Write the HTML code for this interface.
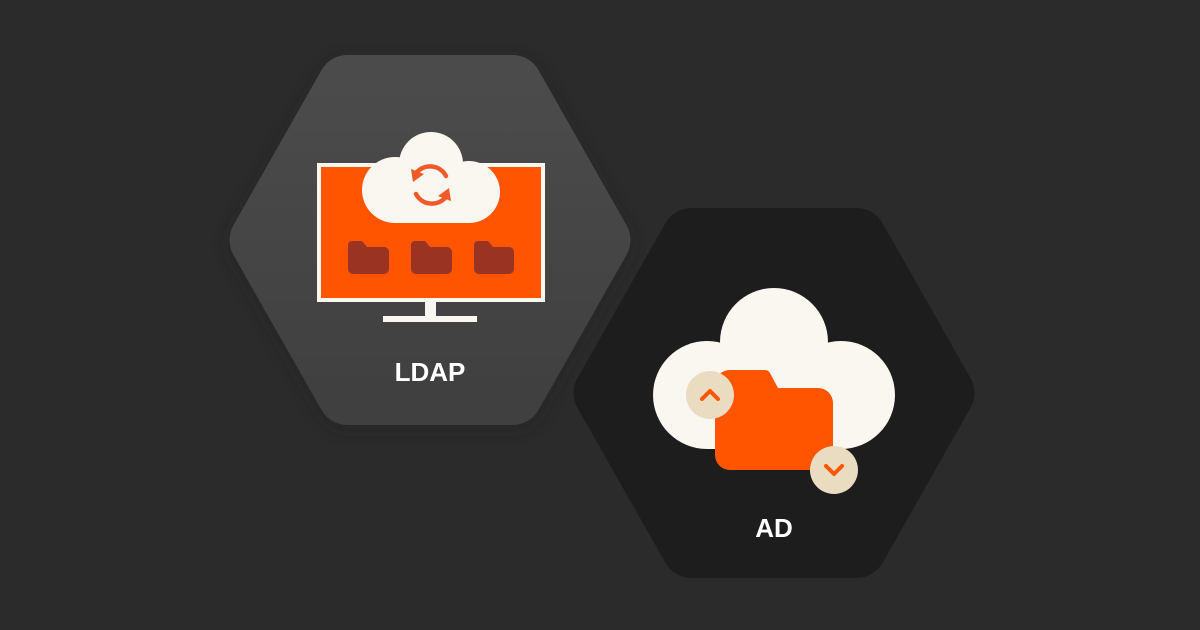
<!DOCTYPE html>
<html><head><meta charset="utf-8"><style>
html,body{margin:0;padding:0;background:#2b2b2b;}
svg{display:block}
</style></head><body>
<svg width="1200" height="630" viewBox="0 0 1200 630" xmlns="http://www.w3.org/2000/svg">
<defs>
<linearGradient id="g1" x1="0" y1="0" x2="0" y2="1">
<stop offset="0" stop-color="#4b4b4b"/><stop offset="1" stop-color="#404040"/>
</linearGradient>
<filter id="sh" x="-20%" y="-20%" width="140%" height="140%"><feGaussianBlur stdDeviation="8"/></filter>
</defs>
<rect width="1200" height="630" fill="#2b2b2b"/>
<polygon points="259.5,240 347.5,85 512.5,85 600.5,240 512.5,395 347.5,395" fill="#1f1f1f" stroke="#1f1f1f" stroke-width="60" stroke-linejoin="round" opacity="0.35" filter="url(#sh)" transform="translate(0,4)"/>
<polygon points="259.5,240 347.5,85 512.5,85 600.5,240 512.5,395 347.5,395" fill="url(#g1)" stroke="url(#g1)" stroke-width="60" stroke-linejoin="round"/>
<g transform="translate(344,153)">
<polygon points="259.5,240 347.5,85 512.5,85 600.5,240 512.5,395 347.5,395" fill="#1d1d1d" stroke="#1d1d1d" stroke-width="60" stroke-linejoin="round"/>
</g>
<rect x="317" y="163" width="228" height="139" fill="#faf6f0"/>
<rect x="321" y="167" width="220" height="131" fill="#ff5400"/>
<rect x="425" y="302" width="11" height="15" fill="#faf6f0"/>
<rect x="383" y="316" width="94" height="6" fill="#faf6f0"/>
<g fill="#faf6f0">
<circle cx="431" cy="164" r="32"/>
<circle cx="395" cy="190" r="33"/>
<circle cx="469" cy="192" r="31"/>
<rect x="395" y="175" width="75" height="48"/>
</g>
<g fill="none" stroke="#f05a28" stroke-width="4.5" stroke-linecap="round">
<path d="M417 172 A18 18 0 0 1 446 176"/>
<path d="M445 198 A18 18 0 0 1 416 194"/>
</g>
<polygon points="411,169 424,174 413,182" fill="#f05a28"/>
<polygon points="451,201 438,196 449,188" fill="#f05a28"/>
<g fill="#9a3322">
<path d="M348 245 a4 4 0 0 1 4 -4 h10 l5 6 h17 a5 5 0 0 1 5 5 v17 a5 5 0 0 1 -5 5 h-31 a5 5 0 0 1 -5 -5z"/>
<path d="M411 245 a4 4 0 0 1 4 -4 h10 l5 6 h17 a5 5 0 0 1 5 5 v17 a5 5 0 0 1 -5 5 h-31 a5 5 0 0 1 -5 -5z"/>
<path d="M474 245 a4 4 0 0 1 4 -4 h10 l5 6 h16 a5 5 0 0 1 5 5 v17 a5 5 0 0 1 -5 5 h-30 a5 5 0 0 1 -5 -5z"/>
</g>
<text x="430" y="381" font-family="Liberation Sans, sans-serif" font-weight="bold" font-size="26" fill="#ffffff" text-anchor="middle">LDAP</text>
<g fill="#faf6f0">
<circle cx="774" cy="342" r="54"/>
<circle cx="707" cy="395" r="54"/>
<circle cx="841" cy="395" r="54"/>
<rect x="707" y="360" width="134" height="89"/>
</g>
<path d="M715 385 a15 15 0 0 1 15 -15 h35 a6 6 0 0 1 5 3 l8 15 h40 a15 15 0 0 1 15 15 v52 a15 15 0 0 1 -15 15 h-88 a15 15 0 0 1 -15 -15z" fill="#ff5400"/>
<circle cx="710" cy="395" r="24" fill="#e9dcc1"/>
<circle cx="834" cy="470" r="24" fill="#e9dcc1"/>
<g fill="none" stroke="#ff5400" stroke-width="4" stroke-linecap="round" stroke-linejoin="round">
<path d="M702 399 l8 -8 l8 8"/>
<path d="M826 466 l8 8 l8 -8"/>
</g>
<text x="774" y="537" font-family="Liberation Sans, sans-serif" font-weight="bold" font-size="26" fill="#ffffff" text-anchor="middle">AD</text>
</svg>
</body></html>
